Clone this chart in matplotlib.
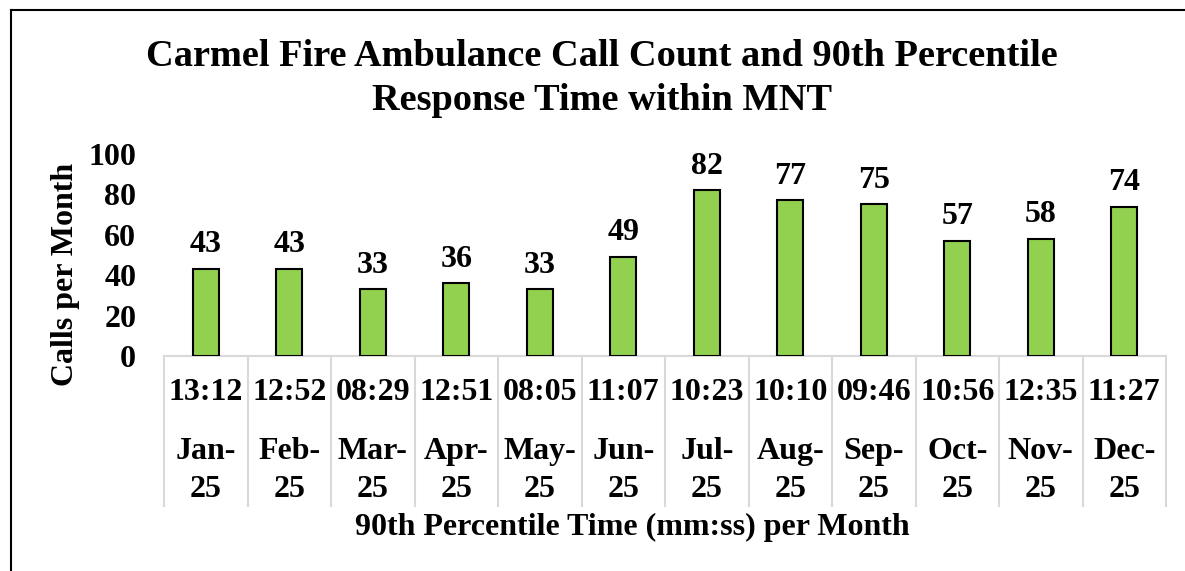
import matplotlib.pyplot as plt
from matplotlib.lines import Line2D

# data
months = ['Jan-25', 'Feb-25', 'Mar-25', 'Apr-25', 'May-25', 'Jun-25',
          'Jul-25', 'Aug-25', 'Sep-25', 'Oct-25', 'Nov-25', 'Dec-25']
p90_times = ['13:12', '12:52', '08:29', '12:51', '08:05', '11:07',
             '10:23', '10:10', '09:46', '10:56', '12:35', '11:27']
calls = [43, 43, 33, 36, 33, 49, 82, 77, 75, 57, 58, 74]

plt.rcParams['font.family'] = ['Liberation Serif', 'DejaVu Serif']
plt.rcParams['font.weight'] = 'bold'
FS = 23

W, H = 1185, 571
fig = plt.figure(figsize=(W / 100, H / 100), dpi=100)
ax = fig.add_axes([164 / W, (H - 356) / H, 1002 / W, 202 / H])

x = list(range(len(months)))
ax.bar(x, calls, width=0.31, color='#92D050', edgecolor='black', linewidth=1.5, zorder=3)
for xi, v in zip(x, calls):
    ax.annotate(str(v), (xi, v), xytext=(0, 7), textcoords='offset points',
                ha='center', va='bottom', fontsize=FS, fontweight='bold')

ax.set_xlim(-0.5, len(months) - 0.5)
ax.set_ylim(0, 100)
ax.set_yticks(range(0, 101, 20))
ax.tick_params(axis='y', length=0, labelsize=FS, pad=20)
ax.set_xticks([])
for s in ax.spines.values():
    s.set_visible(False)

# multi-level category axis
tr = ax.get_xaxis_transform()
ax.plot([-0.5, len(months) - 0.5], [0, 0], color='#D9D9D9', lw=1.5, transform=tr, clip_on=False, zorder=2)
for b in range(len(months) + 1):
    ax.plot([b - 0.5, b - 0.5], [0, -0.743], color='#D9D9D9', lw=1.5, transform=tr, clip_on=False)
for xi, t, m in zip(x, p90_times, months):
    ax.text(xi, -0.183, t, transform=tr, ha='center', va='center', fontsize=FS, fontweight='bold')
    ax.text(xi, -0.567, m.replace('-', '-\n'), transform=tr, ha='center', va='center',
            fontsize=FS, fontweight='bold', linespacing=1.4)

fig.text(602 / W, 1 - 57 / H, 'Carmel Fire Ambulance Call Count and 90th Percentile',
         ha='center', va='center', fontsize=27.6, fontweight='bold')
fig.text(602 / W, 1 - 100 / H, 'Response Time within MNT',
         ha='center', va='center', fontsize=27.6, fontweight='bold')
fig.text(632 / W, 1 - 527 / H, '90th Percentile Time (mm:ss) per Month',
         ha='center', va='center', fontsize=FS, fontweight='bold')
fig.text(65 / W, 1 - 274 / H, 'Calls per Month', rotation=90,
         ha='center', va='center', fontsize=FS, fontweight='bold')

# chart border (left and top visible)
fig.add_artist(Line2D([11 / W, 11 / W], [0, 1 - 10 / H], transform=fig.transFigure, color='black', lw=1.5))
fig.add_artist(Line2D([11 / W, 1], [1 - 10 / H, 1 - 10 / H], transform=fig.transFigure, color='black', lw=1.5))

fig.savefig('out.png', dpi=100)
